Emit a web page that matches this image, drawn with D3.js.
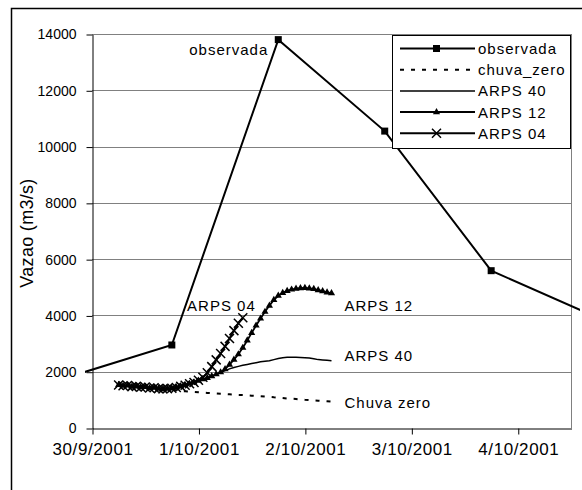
<!DOCTYPE html>
<html>
<head>
<meta charset="utf-8">
<script src="https://cdn.jsdelivr.net/npm/d3@7/dist/d3.min.js"></script>
<style>
  html, body { margin: 0; padding: 0; background: #fff; overflow: hidden; }
  svg { display: block; }
  text { font-family: "Liberation Sans", Arial, sans-serif; fill: #000; }
</style>
</head>
<body>
<svg id="chart" width="582" height="490"></svg>
<script>
// Observed discharge (daily readings)
const obsTimes = ["2001-09-29 18:00", "2001-09-30 18:00", "2001-10-01 18:00",
                  "2001-10-02 18:00", "2001-10-03 18:00", "2001-10-04 18:00"];
const obsValues = [1780, 2950, 13800, 10550, 5590, 3920];

// Simulated series: hourly values from 30/9/2001 06:00
const simStart = "2001-09-30 06:00";
const chuvaZero = [1530, 1500, 1510, 1470, 1480, 1450, 1460, 1420, 1430, 1390,
                   1380, 1370, 1355, 1340, 1320, 1305, 1290, 1280, 1270, 1255,
                   1245, 1235, 1225, 1215, 1205, 1195, 1185, 1175, 1170, 1160,
                   1150, 1140, 1130, 1120, 1105, 1090, 1080, 1065, 1050, 1040,
                   1030, 1015, 1000, 990, 980, 970, 960, 950, 935];
const arps40 = [1530, 1500, 1510, 1470, 1480, 1450, 1460, 1420, 1430, 1400,
                1390, 1400, 1410, 1440, 1480, 1520, 1570, 1620, 1680, 1730,
                1780, 1840, 1910, 1970, 2040, 2100, 2150, 2190, 2230, 2260,
                2290, 2320, 2350, 2370, 2390, 2430, 2470, 2500, 2510, 2510,
                2510, 2505, 2500, 2490, 2460, 2430, 2420, 2410, 2390];
const arps12 = [1530, 1500, 1510, 1470, 1480, 1450, 1460, 1420, 1430, 1400,
                1390, 1400, 1410, 1440, 1480, 1520, 1570, 1620, 1680, 1730,
                1780, 1840, 1910, 1980, 2090, 2250, 2430, 2620, 2850, 3110,
                3380, 3640, 3890, 4130, 4350, 4550, 4700, 4800, 4870, 4920,
                4950, 4970, 4975, 4960, 4940, 4900, 4860, 4820, 4790];
const arps04 = [1530, 1500, 1510, 1470, 1480, 1450, 1460, 1420, 1430, 1400,
                1390, 1400, 1410, 1440, 1480, 1520, 1570, 1620, 1700, 1800,
                1960, 2180, 2420, 2650, 2900, 3180, 3460, 3720, 3920];

// Axis ticks
const yTicks = [0, 2000, 4000, 6000, 8000, 10000, 12000, 14000];
const xTickDates = ["2001-09-30 00:00", "2001-10-01 00:00", "2001-10-02 00:00",
                    "2001-10-03 00:00", "2001-10-04 00:00"];
const xTickLabels = ["30/9/2001", "1/10/2001", "2/10/2001", "3/10/2001", "4/10/2001"];

// Legend entries and in-plot labels
const legendNames = ["observada", "chuva_zero", "ARPS 40", "ARPS 12", "ARPS 04"];
const annotations = [
  { text: "observada", t: "2001-10-01 18:00", v: 13800 },
  { text: "ARPS 04",   t: "2001-10-01 10:00", v: 3920 },
  { text: "ARPS 12",   t: "2001-10-02 06:00", v: 4790 },
  { text: "ARPS 40",   t: "2001-10-02 06:00", v: 2390 },
  { text: "Chuva zero", t: "2001-10-02 06:00", v: 935 }
];

const parse = d3.timeParse("%Y-%m-%d %H:%M");
const svg = d3.select("#chart");

const plot = { left: 92, right: 571, top: 34, bottom: 428 };

const x = d3.scaleTime()
  .domain([parse("2001-09-30 00:00"), parse("2001-10-04 12:00")])
  .range([plot.left, plot.right]);
const y = d3.scaleLinear().domain([0, 14000]).range([plot.bottom, plot.top]);

const start = parse(simStart);
const hourly = vals => vals.map((v, i) => ({ t: d3.timeHour.offset(start, i), v }));
const obs = obsTimes.map((t, i) => ({ t: parse(t), v: obsValues[i] }));

// Chart area border: left and top edges
svg.append("path")
  .attr("d", "M11.5,490V8.5H582")
  .attr("fill", "none").attr("stroke", "#000").attr("stroke-width", 1.5);

// Horizontal gridlines
svg.append("g").selectAll("line")
  .data(yTicks.filter(d => d > 0))
  .join("line")
  .attr("x1", plot.left).attr("x2", plot.right)
  .attr("y1", d => Math.round(y(d)) + 0.5).attr("y2", d => Math.round(y(d)) + 0.5)
  .attr("stroke", "#808080").attr("stroke-width", 1);

// Plot area right edge
svg.append("line")
  .attr("x1", plot.right + 0.5).attr("x2", plot.right + 0.5)
  .attr("y1", plot.top).attr("y2", plot.bottom)
  .attr("stroke", "#808080");

// Y axis
const yAxis = svg.append("g")
  .attr("transform", `translate(${plot.left + 0.5},0.5)`)
  .call(d3.axisLeft(y).tickValues(yTicks).tickSizeInner(6).tickSizeOuter(0)
    .tickPadding(10).tickFormat(d => d));
yAxis.select(".domain").attr("stroke", "#000");
yAxis.selectAll(".tick line").attr("stroke", "#000");
yAxis.selectAll(".tick text")
  .style("font-family", "'Liberation Sans', Arial, sans-serif")
  .style("font-size", "14px").attr("fill", "#000");

// X axis
const xAxis = svg.append("g")
  .attr("transform", `translate(0.5,${plot.bottom + 0.5})`)
  .call(d3.axisBottom(x)
    .tickValues(xTickDates.map(parse))
    .tickSizeInner(6).tickSizeOuter(0).tickPadding(8)
    .tickFormat((d, i) => xTickLabels[i]));
xAxis.select(".domain").attr("stroke", "#000");
xAxis.selectAll(".tick line").attr("stroke", "#000");
xAxis.selectAll(".tick text")
  .style("font-family", "'Liberation Sans', Arial, sans-serif")
  .style("font-size", "17px").style("letter-spacing", "0.6px").attr("fill", "#000");

// Y axis title
svg.append("text")
  .attr("transform", `translate(33,${(plot.top + plot.bottom) / 2 + 2}) rotate(-90)`)
  .attr("text-anchor", "middle")
  .style("font-size", "18px").style("letter-spacing", "0.3px")
  .text("Vazao (m3/s)");

// Series are clipped slightly outside the plot area
svg.append("clipPath").attr("id", "clip")
  .append("rect")
  .attr("x", plot.left - 7).attr("y", 0)
  .attr("width", plot.right - plot.left + 16).attr("height", 490);

const series = svg.append("g").attr("clip-path", "url(#clip)");
const line = d3.line().x(d => x(d.t)).y(d => y(d.v));

// observada
series.append("path").datum(obs)
  .attr("d", line).attr("fill", "none").attr("stroke", "#000").attr("stroke-width", 2);
series.append("g").selectAll("rect").data(obs).join("rect")
  .attr("x", d => x(d.t) - 3.5).attr("y", d => y(d.v) - 3.5)
  .attr("width", 7).attr("height", 7).attr("fill", "#000");

// chuva_zero
series.append("path").datum(hourly(chuvaZero))
  .attr("d", line).attr("fill", "none").attr("stroke", "#000")
  .attr("stroke-width", 2).attr("stroke-dasharray", "4,7");

// ARPS 40
series.append("path").datum(hourly(arps40))
  .attr("d", line).attr("fill", "none").attr("stroke", "#000").attr("stroke-width", 1.5);

// ARPS 12 with triangle markers
const a12 = hourly(arps12);
series.append("path").datum(a12)
  .attr("d", line).attr("fill", "none").attr("stroke", "#000").attr("stroke-width", 1.8);
const tri = d3.symbol().type(d3.symbolTriangle).size(22);
series.append("g").selectAll("path").data(a12).join("path")
  .attr("transform", d => `translate(${x(d.t)},${y(d.v)})`)
  .attr("d", tri).attr("fill", "#000");

// ARPS 04 with cross markers
const cross = "M-4.5,-4.5L4.5,4.5M-4.5,4.5L4.5,-4.5";
const a04 = hourly(arps04);
series.append("path").datum(a04)
  .attr("d", line).attr("fill", "none").attr("stroke", "#000").attr("stroke-width", 2);
series.append("g").selectAll("path").data(a04).join("path")
  .attr("transform", d => `translate(${x(d.t)},${y(d.v)})`)
  .attr("d", cross)
  .attr("stroke", "#000").attr("stroke-width", 1.5).attr("fill", "none");

// In-plot labels
const labelStyle = sel => sel.style("font-size", "15px").style("letter-spacing", "1px");
const ann = svg.append("g");
const aObs = annotations[0];
ann.append("text").call(labelStyle)
  .attr("x", x(parse(aObs.t)) - 10).attr("y", y(aObs.v) + 15)
  .attr("text-anchor", "end").text(aObs.text);
const a4 = annotations[1];
ann.append("text").call(labelStyle)
  .attr("x", x(parse(a4.t)) + 13).attr("y", y(a4.v) - 7)
  .attr("text-anchor", "end").text(a4.text);
annotations.slice(2).forEach((a, i) => {
  const dy = [18, 0, 6][i];
  ann.append("text").call(labelStyle)
    .attr("x", x(parse(a.t)) + 13).attr("y", y(a.v) + dy)
    .text(a.text);
});

// Legend
const lg = svg.append("g");
lg.append("rect")
  .attr("x", 392.5).attr("y", 35.5).attr("width", 178).attr("height", 113)
  .attr("fill", "#fff").attr("stroke", "#000");
const rowY = i => 48.5 + i * 21.2;
legendNames.forEach((name, i) => {
  const yy = rowY(i);
  const ln = lg.append("line")
    .attr("x1", 400).attr("x2", 475).attr("y1", yy).attr("y2", yy)
    .attr("stroke", "#000").attr("stroke-width", i === 2 ? 1.5 : 2);
  if (i === 1) ln.attr("stroke-dasharray", "4,7");
  if (i === 0) {
    lg.append("rect").attr("x", 433).attr("y", yy - 3.5).attr("width", 7).attr("height", 7).attr("fill", "#000");
  } else if (i === 3) {
    lg.append("path").attr("transform", `translate(436.5,${yy})`).attr("d", tri).attr("fill", "#000");
  } else if (i === 4) {
    lg.append("path").attr("transform", `translate(436.5,${yy})`)
      .attr("d", cross).attr("stroke", "#000").attr("stroke-width", 1.5);
  }
  lg.append("text").call(labelStyle)
    .attr("x", 478).attr("y", yy + 5.5).text(name);
});
</script>
</body>
</html>
